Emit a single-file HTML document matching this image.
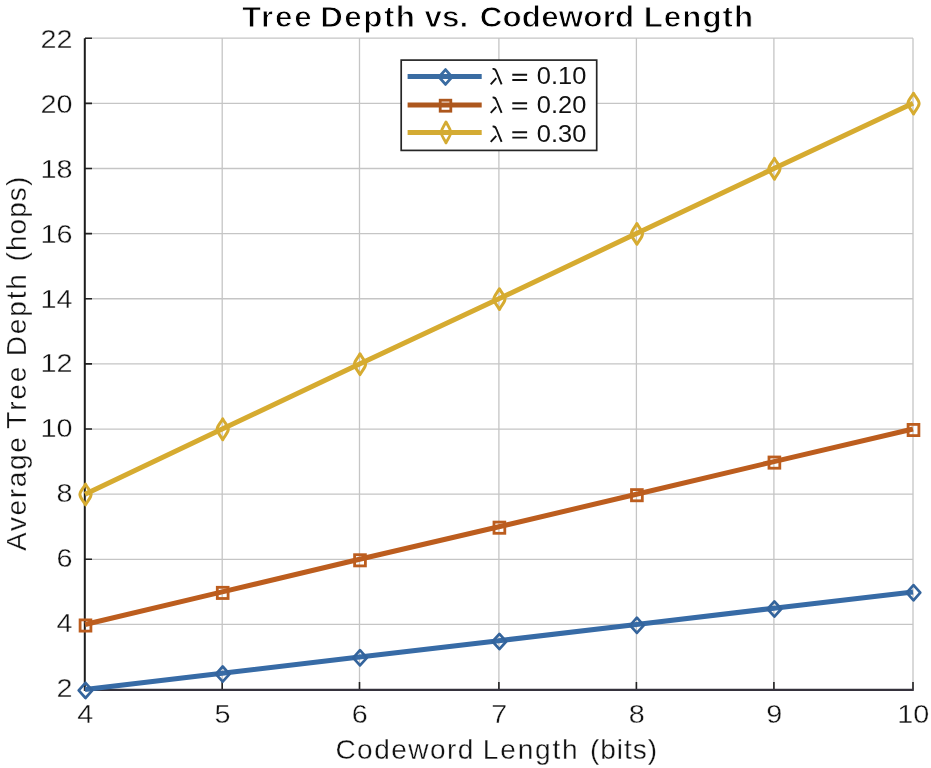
<!DOCTYPE html>
<html><head><meta charset="utf-8"><title>Tree Depth vs. Codeword Length</title><style>html,body{margin:0;padding:0;background:#fff;width:931px;height:768px;overflow:hidden}</style></head><body>
<svg width="931" height="768" viewBox="0 0 931 768" style="display:block;will-change:transform">
<rect width="931" height="768" fill="#fff"/>
<path d="M222.2 38.2V689.6 M359.5 38.2V689.6 M498.9 38.2V689.6 M636.4 38.2V689.6 M773.9 38.2V689.6 M913 38.2V689.6 M85 624.46H913 M85 559.32H913 M85 494.18H913 M85 429.04H913 M85 363.90H913 M85 298.76H913 M85 233.62H913 M85 168.48H913 M85 103.34H913 M85 38.20H913" stroke="#c5c5c5" stroke-width="1.3" fill="none"/>
<path d="M85 689.60h7 M85 624.46h7 M85 559.32h7 M85 494.18h7 M85 429.04h7 M85 363.90h7 M85 298.76h7 M85 233.62h7 M85 168.48h7 M85 103.34h7 M85 38.20h7 M222.2 689.6v-7.5 M359.5 689.6v-7.5 M498.9 689.6v-7.5 M636.4 689.6v-7.5 M773.9 689.6v-7.5 M913 689.6v-7.5" stroke="#222" stroke-width="1.6" fill="none"/>
<path d="M84.8 38.2V690.9" stroke="#1c1c1c" stroke-width="2" fill="none"/>
<path d="M84 689.9H913.8" stroke="#35323c" stroke-width="2.1" fill="none"/>
<path d="M85.0 689.6 L222.2 673.3 L359.5 657.0 L498.9 640.7 L636.4 624.5 L773.9 608.2 L913.0 591.9" stroke="#376ba6" stroke-width="5" fill="none" stroke-linejoin="round" stroke-linecap="butt"/>
<path d="M85.5 682.8L92.3 690.4L85.5 698.0L78.7 690.4Z" stroke="#34649c" stroke-width="2.7" fill="none" stroke-linejoin="round"/>
<path d="M222.7 666.5L229.5 674.1L222.7 681.7L215.9 674.1Z" stroke="#34649c" stroke-width="2.7" fill="none" stroke-linejoin="round"/>
<path d="M360.0 650.2L366.8 657.8L360.0 665.4L353.2 657.8Z" stroke="#34649c" stroke-width="2.7" fill="none" stroke-linejoin="round"/>
<path d="M499.4 633.9L506.2 641.5L499.4 649.1L492.6 641.5Z" stroke="#34649c" stroke-width="2.7" fill="none" stroke-linejoin="round"/>
<path d="M636.9 617.7L643.7 625.3L636.9 632.9L630.1 625.3Z" stroke="#34649c" stroke-width="2.7" fill="none" stroke-linejoin="round"/>
<path d="M774.4 601.4L781.2 609.0L774.4 616.6L767.6 609.0Z" stroke="#34649c" stroke-width="2.7" fill="none" stroke-linejoin="round"/>
<path d="M913.5 585.1L920.3 592.7L913.5 600.3L906.7 592.7Z" stroke="#34649c" stroke-width="2.7" fill="none" stroke-linejoin="round"/>
<path d="M85.0 624.5 L222.2 591.9 L359.5 559.3 L498.9 526.8 L636.4 494.2 L773.9 461.6 L913.0 429.0" stroke="#bc5d1e" stroke-width="5" fill="none" stroke-linejoin="round" stroke-linecap="butt"/>
<rect x="80.1" y="619.9" width="10.8" height="11.2" stroke="#bc5d1e" stroke-width="2.8" fill="none"/>
<rect x="217.3" y="587.3" width="10.8" height="11.2" stroke="#bc5d1e" stroke-width="2.8" fill="none"/>
<rect x="354.6" y="554.7" width="10.8" height="11.2" stroke="#bc5d1e" stroke-width="2.8" fill="none"/>
<rect x="494.0" y="522.1" width="10.8" height="11.2" stroke="#bc5d1e" stroke-width="2.8" fill="none"/>
<rect x="631.5" y="489.6" width="10.8" height="11.2" stroke="#bc5d1e" stroke-width="2.8" fill="none"/>
<rect x="769.0" y="457.0" width="10.8" height="11.2" stroke="#bc5d1e" stroke-width="2.8" fill="none"/>
<rect x="908.1" y="424.4" width="10.8" height="11.2" stroke="#bc5d1e" stroke-width="2.8" fill="none"/>
<path d="M85.0 494.2 L222.2 429.0 L359.5 363.9 L498.9 298.8 L636.4 233.6 L773.9 168.5 L913.0 103.3" stroke="#d6ab30" stroke-width="5" fill="none" stroke-linejoin="round" stroke-linecap="butt"/>
<path d="M85.5 484.1C88.0 488.8 91.1 491.4 91.1 494.5C91.1 497.6 88.0 500.2 85.5 504.9C83.0 500.2 79.9 497.6 79.9 494.5C79.9 491.4 83.0 488.8 85.5 484.1Z" stroke="#d6ab30" stroke-width="3" fill="none" stroke-linejoin="round"/>
<path d="M222.7 418.9C225.2 423.6 228.3 426.2 228.3 429.3C228.3 432.5 225.2 435.1 222.7 439.7C220.2 435.1 217.1 432.5 217.1 429.3C217.1 426.2 220.2 423.6 222.7 418.9Z" stroke="#d6ab30" stroke-width="3" fill="none" stroke-linejoin="round"/>
<path d="M360.0 353.8C362.5 358.5 365.6 361.1 365.6 364.2C365.6 367.3 362.5 369.9 360.0 374.6C357.5 369.9 354.4 367.3 354.4 364.2C354.4 361.1 357.5 358.5 360.0 353.8Z" stroke="#d6ab30" stroke-width="3" fill="none" stroke-linejoin="round"/>
<path d="M499.4 288.7C501.9 293.3 505.0 295.9 505.0 299.1C505.0 302.2 501.9 304.8 499.4 309.5C496.9 304.8 493.8 302.2 493.8 299.1C493.8 295.9 496.9 293.3 499.4 288.7Z" stroke="#d6ab30" stroke-width="3" fill="none" stroke-linejoin="round"/>
<path d="M636.9 223.5C639.4 228.2 642.5 230.8 642.5 233.9C642.5 237.0 639.4 239.6 636.9 244.3C634.4 239.6 631.3 237.0 631.3 233.9C631.3 230.8 634.4 228.2 636.9 223.5Z" stroke="#d6ab30" stroke-width="3" fill="none" stroke-linejoin="round"/>
<path d="M774.4 158.4C776.9 163.1 780.0 165.7 780.0 168.8C780.0 171.9 776.9 174.5 774.4 179.2C771.9 174.5 768.8 171.9 768.8 168.8C768.8 165.7 771.9 163.1 774.4 158.4Z" stroke="#d6ab30" stroke-width="3" fill="none" stroke-linejoin="round"/>
<path d="M913.5 93.2C916.0 97.9 919.1 100.5 919.1 103.6C919.1 106.8 916.0 109.4 913.5 114.0C911.0 109.4 907.9 106.8 907.9 103.6C907.9 100.5 911.0 97.9 913.5 93.2Z" stroke="#d6ab30" stroke-width="3" fill="none" stroke-linejoin="round"/>
<text transform="translate(72.5 697.3) scale(1.13 1)" text-anchor="end" style="font-family:'Liberation Sans',sans-serif;font-size:25.5px" fill="#111" stroke="#fff" stroke-width="0.35">2</text>
<text transform="translate(72.5 632.2) scale(1.13 1)" text-anchor="end" style="font-family:'Liberation Sans',sans-serif;font-size:25.5px" fill="#111" stroke="#fff" stroke-width="0.35">4</text>
<text transform="translate(72.5 567.0) scale(1.13 1)" text-anchor="end" style="font-family:'Liberation Sans',sans-serif;font-size:25.5px" fill="#111" stroke="#fff" stroke-width="0.35">6</text>
<text transform="translate(72.5 501.9) scale(1.13 1)" text-anchor="end" style="font-family:'Liberation Sans',sans-serif;font-size:25.5px" fill="#111" stroke="#fff" stroke-width="0.35">8</text>
<text transform="translate(72.5 436.7) scale(1.13 1)" text-anchor="end" style="font-family:'Liberation Sans',sans-serif;font-size:25.5px" fill="#111" stroke="#fff" stroke-width="0.35">10</text>
<text transform="translate(72.5 371.6) scale(1.13 1)" text-anchor="end" style="font-family:'Liberation Sans',sans-serif;font-size:25.5px" fill="#111" stroke="#fff" stroke-width="0.35">12</text>
<text transform="translate(72.5 308.2) scale(1.13 1)" text-anchor="end" style="font-family:'Liberation Sans',sans-serif;font-size:25.5px" fill="#111" stroke="#fff" stroke-width="0.35">14</text>
<text transform="translate(72.5 243.0) scale(1.13 1)" text-anchor="end" style="font-family:'Liberation Sans',sans-serif;font-size:25.5px" fill="#111" stroke="#fff" stroke-width="0.35">16</text>
<text transform="translate(72.5 177.9) scale(1.13 1)" text-anchor="end" style="font-family:'Liberation Sans',sans-serif;font-size:25.5px" fill="#111" stroke="#fff" stroke-width="0.35">18</text>
<text transform="translate(72.5 112.7) scale(1.13 1)" text-anchor="end" style="font-family:'Liberation Sans',sans-serif;font-size:25.5px" fill="#111" stroke="#fff" stroke-width="0.35">20</text>
<text transform="translate(72.5 47.6) scale(1.13 1)" text-anchor="end" style="font-family:'Liberation Sans',sans-serif;font-size:25.5px" fill="#111" stroke="#fff" stroke-width="0.35">22</text>
<text transform="translate(85.3 723.3) scale(1.13 1)" text-anchor="middle" style="font-family:'Liberation Sans',sans-serif;font-size:25.5px" fill="#111" stroke="#fff" stroke-width="0.35">4</text>
<text transform="translate(222.5 723.3) scale(1.13 1)" text-anchor="middle" style="font-family:'Liberation Sans',sans-serif;font-size:25.5px" fill="#111" stroke="#fff" stroke-width="0.35">5</text>
<text transform="translate(359.8 723.3) scale(1.13 1)" text-anchor="middle" style="font-family:'Liberation Sans',sans-serif;font-size:25.5px" fill="#111" stroke="#fff" stroke-width="0.35">6</text>
<text transform="translate(499.2 723.3) scale(1.13 1)" text-anchor="middle" style="font-family:'Liberation Sans',sans-serif;font-size:25.5px" fill="#111" stroke="#fff" stroke-width="0.35">7</text>
<text transform="translate(636.7 723.3) scale(1.13 1)" text-anchor="middle" style="font-family:'Liberation Sans',sans-serif;font-size:25.5px" fill="#111" stroke="#fff" stroke-width="0.35">8</text>
<text transform="translate(774.2 723.3) scale(1.13 1)" text-anchor="middle" style="font-family:'Liberation Sans',sans-serif;font-size:25.5px" fill="#111" stroke="#fff" stroke-width="0.35">9</text>
<text transform="translate(913.3 723.3) scale(1.13 1)" text-anchor="middle" style="font-family:'Liberation Sans',sans-serif;font-size:25.5px" fill="#111" stroke="#fff" stroke-width="0.35">10</text>
<text x="335.40" y="759.3" textLength="137.90" lengthAdjust="spacing" style="font-family:'Liberation Sans',sans-serif;font-size:28px" fill="#111" stroke="#fff" stroke-width="0.3">Codeword</text>
<text x="482.80" y="759.3" textLength="94.90" lengthAdjust="spacing" style="font-family:'Liberation Sans',sans-serif;font-size:28px" fill="#111" stroke="#fff" stroke-width="0.3">Length</text>
<text x="590.10" y="759.3" textLength="66.90" lengthAdjust="spacing" style="font-family:'Liberation Sans',sans-serif;font-size:28px" fill="#111" stroke="#fff" stroke-width="0.3">(bits)</text>
<text transform="translate(26.2 550.90) rotate(-90)" x="0" y="0" textLength="113.80" lengthAdjust="spacing" style="font-family:'Liberation Sans',sans-serif;font-size:28px" fill="#111" stroke="#fff" stroke-width="0.3">Average</text>
<text transform="translate(26.2 428.80) rotate(-90)" x="0" y="0" textLength="62.20" lengthAdjust="spacing" style="font-family:'Liberation Sans',sans-serif;font-size:28px" fill="#111" stroke="#fff" stroke-width="0.3">Tree</text>
<text transform="translate(26.2 356.30) rotate(-90)" x="0" y="0" textLength="82.20" lengthAdjust="spacing" style="font-family:'Liberation Sans',sans-serif;font-size:28px" fill="#111" stroke="#fff" stroke-width="0.3">Depth</text>
<text transform="translate(26.2 261.50) rotate(-90)" x="0" y="0" textLength="84.80" lengthAdjust="spacing" style="font-family:'Liberation Sans',sans-serif;font-size:28px" fill="#111" stroke="#fff" stroke-width="0.3">(hops)</text>
<text transform="translate(241.90 26.8) scale(1.08 1)" textLength="64.54" lengthAdjust="spacing" style="font-family:'Liberation Sans',sans-serif;font-size:29px;font-weight:bold" fill="#000" stroke="#fff" stroke-width="0.9">Tree</text>
<text transform="translate(320.20 26.8) scale(1.08 1)" textLength="87.78" lengthAdjust="spacing" style="font-family:'Liberation Sans',sans-serif;font-size:29px;font-weight:bold" fill="#000" stroke="#fff" stroke-width="0.9">Depth</text>
<text transform="translate(424.60 26.8) scale(1.08 1)" textLength="40.37" lengthAdjust="spacing" style="font-family:'Liberation Sans',sans-serif;font-size:29px;font-weight:bold" fill="#000" stroke="#fff" stroke-width="0.9">vs.</text>
<text transform="translate(479.70 26.8) scale(1.08 1)" textLength="143.06" lengthAdjust="spacing" style="font-family:'Liberation Sans',sans-serif;font-size:29px;font-weight:bold" fill="#000" stroke="#fff" stroke-width="0.9">Codeword</text>
<text transform="translate(643.70 26.8) scale(1.08 1)" textLength="101.30" lengthAdjust="spacing" style="font-family:'Liberation Sans',sans-serif;font-size:29px;font-weight:bold" fill="#000" stroke="#fff" stroke-width="0.9">Length</text>
<rect x="401.2" y="60.1" width="195.5" height="90.3" fill="#fff" stroke="#262626" stroke-width="1.7"/>
<path d="M407.6 76.4H481.7" stroke="#3a6ca2" stroke-width="5"/>
<path d="M445.5 69.6L452.0 77.0L445.5 84.4L439.0 77.0Z" stroke="#3a6ca2" stroke-width="2.8" fill="none" stroke-linejoin="round"/>
<path d="M492.6 69.0Q495.2 68.4 496.3 71.4L501.6 84.3M490.7 84.3L496.3 78.2" stroke="#111" stroke-width="1.9" fill="none"/>
<path d="M512.3 74.7H527.1M512.3 80.0H527.1" stroke="#111" stroke-width="1.9" fill="none"/>
<text transform="translate(536.8 83.8) scale(1.106 1)" style="font-family:'Liberation Sans',sans-serif;font-size:23px" fill="#111">0.10</text>
<path d="M407.6 105.1H481.7" stroke="#ad571d" stroke-width="5"/>
<rect x="440.2" y="100.2" width="10.6" height="11.0" stroke="#ad571d" stroke-width="2.8" fill="none"/>
<path d="M492.6 97.6Q495.2 97.0 496.3 100.0L501.6 112.9M490.7 112.9L496.3 106.8" stroke="#111" stroke-width="1.9" fill="none"/>
<path d="M512.3 103.3H527.1M512.3 108.6H527.1" stroke="#111" stroke-width="1.9" fill="none"/>
<text transform="translate(536.8 112.9) scale(1.106 1)" style="font-family:'Liberation Sans',sans-serif;font-size:23px" fill="#111">0.20</text>
<path d="M407.6 132.4H481.7" stroke="#d4ab33" stroke-width="5"/>
<path d="M446.0 121.9C448.2 126.6 450.8 129.2 450.8 132.4C450.8 135.6 448.2 138.2 446.0 142.9C443.8 138.2 441.2 135.6 441.2 132.4C441.2 129.2 443.8 126.6 446.0 121.9Z" stroke="#d4ab33" stroke-width="2.8" fill="none" stroke-linejoin="round"/>
<path d="M492.6 126.6Q495.2 126.0 496.3 129.0L501.6 141.9M490.7 141.9L496.3 135.8" stroke="#111" stroke-width="1.9" fill="none"/>
<path d="M512.3 132.3H527.1M512.3 137.6H527.1" stroke="#111" stroke-width="1.9" fill="none"/>
<text transform="translate(536.8 142.1) scale(1.106 1)" style="font-family:'Liberation Sans',sans-serif;font-size:23px" fill="#111">0.30</text>
</svg>
</body></html>
